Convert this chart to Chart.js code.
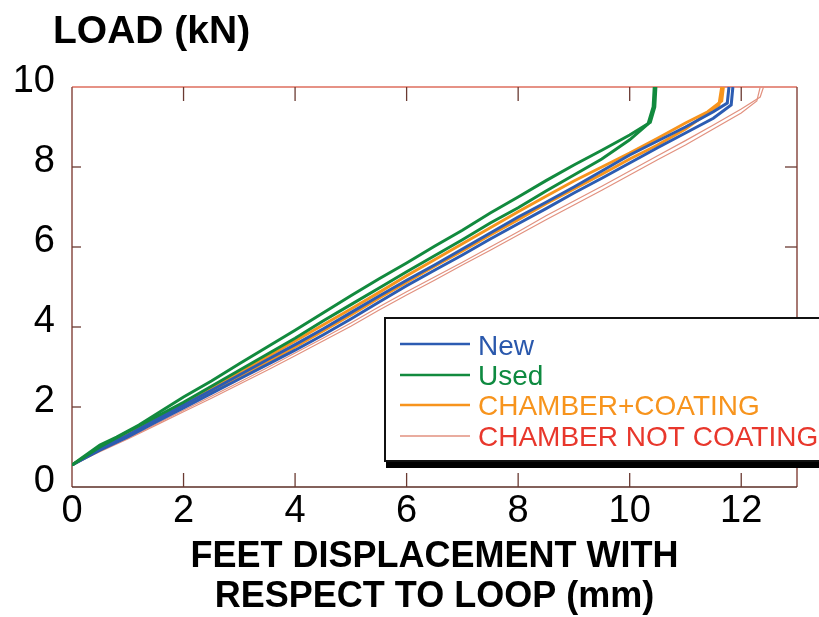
<!DOCTYPE html>
<html><head><meta charset="utf-8">
<script src="https://cdn.jsdelivr.net/npm/chart.js@4.4.0/dist/chart.umd.min.js"></script>
<style>html,body{margin:0;padding:0;background:#fff;} #wrap{width:819px;height:617px;position:relative;overflow:hidden;}</style>
</head><body><div id="wrap"><canvas id="c" width="819" height="617"></canvas></div>
<script>
const xTicks = [0, 2, 4, 6, 8, 10, 12];
const yTicks = [0, 2, 4, 6, 8, 10];
const seriesNames = ['New', 'Used', 'CHAMBER+COATING', 'CHAMBER NOT COATING'];
const xTitle = ['FEET DISPLACEMENT WITH', 'RESPECT TO LOOP (mm)'];
const yTitle = 'LOAD (kN)';

// Used (green), two specimens
const usedA_x = [0, 0.15, 0.5, 0.8, 1.2, 1.6, 2.0, 2.5, 3.0, 3.5, 4.0, 4.5, 5.0, 5.5, 6.0, 6.5, 7.0, 7.5, 8.0, 8.5, 9.0, 9.5, 10.0, 10.37, 10.45, 10.47];
const usedA_y = [0.55, 0.7, 1.05, 1.25, 1.55, 1.9, 2.25, 2.65, 3.08, 3.5, 3.92, 4.35, 4.78, 5.2, 5.6, 6.02, 6.42, 6.85, 7.25, 7.66, 8.05, 8.42, 8.8, 9.12, 9.5, 10.0];
const usedB_x = [0, 0.5, 1.0, 1.5, 2.0, 2.5, 3.0, 3.5, 4.0, 4.5, 5.0, 5.5, 6.0, 6.5, 7.0, 7.5, 8.0, 8.5, 9.0, 9.5, 10.0, 10.33, 10.42, 10.44];
const usedB_y = [0.55, 1.0, 1.38, 1.75, 2.12, 2.52, 2.92, 3.32, 3.72, 4.15, 4.56, 4.97, 5.38, 5.78, 6.18, 6.6, 6.98, 7.4, 7.8, 8.2, 8.68, 9.08, 9.5, 10.0];
// New (blue)
const newA_x = [0, 0.5, 1, 1.5, 2, 2.5, 3, 3.5, 4, 4.5, 5, 5.5, 6, 6.5, 7, 7.5, 8, 8.5, 9, 9.5, 10, 10.5, 11, 11.5, 11.75, 11.78];
const newA_y = [0.55, 0.95, 1.3, 1.68, 2.05, 2.42, 2.8, 3.18, 3.56, 3.95, 4.36, 4.77, 5.17, 5.55, 5.95, 6.35, 6.75, 7.12, 7.5, 7.9, 8.3, 8.65, 9.0, 9.38, 9.6, 10.0];
const newB_x = [0, 0.5, 1, 1.5, 2, 2.5, 3, 3.5, 4, 4.5, 5, 5.5, 6, 6.5, 7, 7.5, 8, 8.5, 9, 9.5, 10, 10.5, 11, 11.5, 11.82, 11.85];
const newB_y = [0.55, 0.92, 1.25, 1.62, 1.98, 2.34, 2.7, 3.06, 3.42, 3.8, 4.2, 4.62, 5.03, 5.42, 5.8, 6.2, 6.58, 6.96, 7.35, 7.72, 8.1, 8.48, 8.85, 9.22, 9.55, 10.0];
// CHAMBER+COATING (orange)
const coatA_x = [0, 0.5, 1, 1.5, 2, 2.5, 3, 3.5, 4, 4.5, 5, 5.5, 6, 6.5, 7, 7.5, 8, 8.5, 9, 9.5, 10, 10.5, 11, 11.4, 11.65, 11.68];
const coatA_y = [0.55, 1.0, 1.35, 1.72, 2.1, 2.48, 2.85, 3.25, 3.65, 4.05, 4.45, 4.86, 5.28, 5.68, 6.08, 6.48, 6.88, 7.27, 7.65, 8.0, 8.35, 8.72, 9.1, 9.38, 9.65, 10.0];
const coatB_x = [0, 0.5, 1, 1.5, 2, 2.5, 3, 3.5, 4, 4.5, 5, 5.5, 6, 6.5, 7, 7.5, 8, 8.5, 9, 9.5, 10, 10.5, 11, 11.6, 11.65];
const coatB_y = [0.55, 0.93, 1.28, 1.64, 2.0, 2.38, 2.75, 3.12, 3.5, 3.9, 4.3, 4.72, 5.12, 5.52, 5.9, 6.3, 6.68, 7.08, 7.45, 7.82, 8.2, 8.55, 8.95, 9.55, 10.0];
// CHAMBER NOT COATING (salmon)
const noCoatA_x = [0, 0.5, 1, 1.5, 2, 2.5, 3, 3.5, 4, 4.5, 5, 5.5, 6, 6.5, 7, 7.5, 8, 8.5, 9, 9.5, 10, 10.5, 11, 11.5, 12, 12.34, 12.4];
const noCoatA_y = [0.55, 0.9, 1.22, 1.57, 1.92, 2.27, 2.62, 2.98, 3.35, 3.72, 4.1, 4.5, 4.88, 5.25, 5.62, 6.0, 6.38, 6.78, 7.15, 7.52, 7.9, 8.28, 8.66, 9.05, 9.45, 9.75, 10.0];
const noCoatB_x = [0, 0.5, 1, 1.5, 2, 2.5, 3, 3.5, 4, 4.5, 5, 5.5, 6, 6.5, 7, 7.5, 8, 8.5, 9, 9.5, 10, 10.5, 11, 11.5, 12, 12.28, 12.34];
const noCoatB_y = [0.55, 0.88, 1.2, 1.54, 1.88, 2.22, 2.57, 2.92, 3.28, 3.65, 4.02, 4.42, 4.8, 5.17, 5.55, 5.92, 6.3, 6.68, 7.05, 7.42, 7.8, 8.18, 8.55, 8.95, 9.35, 9.65, 10.0];

const lineColors = ['#2c5cb2', '#128a3e', '#f7941d', '#e2917f'];
const textColors = ['#2a58ac', '#0e8a40', '#f7941d', '#e8372c'];
const widths = [3, 3, 3, 1.2];

function pts(xs, ys) { return xs.map((x, i) => ({x: x, y: ys[i]})); }
function ds(name, idx, xs, ys) {
  return {label: name, data: pts(xs, ys), borderColor: lineColors[idx], backgroundColor: lineColors[idx],
    borderWidth: widths[idx], pointRadius: 0, showLine: true, fill: false, tension: 0};
}
const datasets = [
  ds(seriesNames[1], 1, usedA_x, usedA_y),
  ds(seriesNames[1], 1, usedB_x, usedB_y),
  ds(seriesNames[0], 0, newA_x, newA_y),
  ds(seriesNames[0], 0, newB_x, newB_y),
  ds(seriesNames[2], 2, coatA_x, coatA_y),
  ds(seriesNames[2], 2, coatB_x, coatB_y),
  ds(seriesNames[3], 3, noCoatA_x, noCoatA_y),
  ds(seriesNames[3], 3, noCoatB_x, noCoatB_y)
];

const FONT = "'Liberation Sans', Arial, Helvetica, sans-serif";

const framePlugin = {
  id: 'frame',
  beforeDatasetsDraw(chart) {
    const ctx = chart.ctx;
    const a = chart.chartArea;
    const sx = chart.scales.x, sy = chart.scales.y;
    ctx.save();
    ctx.lineWidth = 1.5;
    ctx.strokeStyle = '#de6e5e';
    ctx.beginPath(); ctx.moveTo(a.left, a.top); ctx.lineTo(a.right, a.top); ctx.stroke();
    ctx.strokeStyle = '#8a4c44';
    ctx.beginPath(); ctx.moveTo(a.left, a.top); ctx.lineTo(a.left, a.bottom); ctx.stroke();
    ctx.beginPath(); ctx.moveTo(a.right, a.top); ctx.lineTo(a.right, a.bottom); ctx.stroke();
    ctx.strokeStyle = '#5a2c24';
    ctx.beginPath(); ctx.moveTo(a.left, a.bottom); ctx.lineTo(a.right, a.bottom); ctx.stroke();
    ctx.strokeStyle = '#6a3a32';
    ctx.lineWidth = 1.3;
    xTicks.forEach(v => {
      if (v === 0) return;
      const px = sx.getPixelForValue(v);
      ctx.beginPath(); ctx.moveTo(px, a.bottom); ctx.lineTo(px, a.bottom - 14); ctx.stroke();
      ctx.beginPath(); ctx.moveTo(px, a.top); ctx.lineTo(px, a.top + 14); ctx.stroke();
    });
    yTicks.forEach(v => {
      if (v === 0 || v === 10) return;
      const py = sy.getPixelForValue(v);
      ctx.beginPath(); ctx.moveTo(a.left, py); ctx.lineTo(a.left + 9, py); ctx.stroke();
      ctx.beginPath(); ctx.moveTo(a.right, py); ctx.lineTo(a.right - 12, py); ctx.stroke();
    });
    ctx.restore();
  },
  afterDraw(chart) {
    const ctx = chart.ctx;
    ctx.save();
    ctx.fillStyle = '#000';
    ctx.font = 'bold 39px ' + FONT;
    ctx.textBaseline = 'alphabetic';
    ctx.textAlign = 'left';
    ctx.fillText(yTitle, 53, 43);
    const bx = 385, by = 318, bw = 460, bh = 143;
    ctx.fillStyle = '#000';
    ctx.fillRect(bx + 1, by + 6, bw, bh + 1);
    ctx.fillStyle = '#fff';
    ctx.fillRect(bx, by, bw, bh);
    ctx.strokeStyle = '#111';
    ctx.lineWidth = 2;
    ctx.strokeRect(bx, by, bw, bh);
    const baselines = [355, 385, 415, 446];
    const rowsMid = [344, 375, 405, 436];
    ctx.font = '28px ' + FONT;
    seriesNames.forEach((name, i) => {
      ctx.strokeStyle = lineColors[i];
      ctx.lineWidth = i === 3 ? 1.5 : 2.5;
      ctx.beginPath(); ctx.moveTo(400, rowsMid[i]); ctx.lineTo(470, rowsMid[i]); ctx.stroke();
      ctx.fillStyle = textColors[i];
      ctx.fillText(name, 478, baselines[i]);
    });
    ctx.restore();
  }
};

new Chart(document.getElementById('c'), {
  type: 'scatter',
  data: {datasets: datasets},
  options: {
    responsive: false, animation: false, devicePixelRatio: 1,
    layout: {padding: {top: 87, right: 22, left: 0, bottom: 0}},
    plugins: {legend: {display: false}, tooltip: {enabled: false}},
    scales: {
      x: {
        type: 'linear', min: 0, max: 13,
        afterBuildTicks: s => { s.ticks = xTicks.map(v => ({value: v})); },
        afterFit: s => { s.height = 130; },
        grid: {display: false, drawTicks: false}, border: {display: false},
        ticks: {color: '#000', padding: 2, maxRotation: 0, autoSkip: false, font: {family: FONT, size: 38}},
        title: {display: true, text: xTitle, color: '#000', padding: 0,
          font: {family: FONT, size: 36, weight: 'bold', lineHeight: '40px'}}
      },
      y: {
        type: 'linear', min: 0, max: 10,
        afterBuildTicks: s => { s.ticks = yTicks.map(v => ({value: v})); },
        afterFit: s => { s.width = 72; },
        grid: {display: false, drawTicks: false}, border: {display: false},
        ticks: {color: '#000', padding: 17, labelOffset: -5, autoSkip: false, font: {family: FONT, size: 38}}
      }
    }
  },
  plugins: [framePlugin]
});
</script></body></html>
